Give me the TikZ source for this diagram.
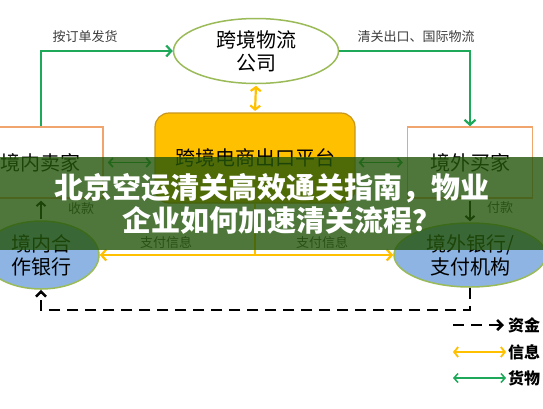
\documentclass[tikz,border=0pt]{standalone}
\usepackage{fontspec}
\newfontfamily\cjk{Noto Sans CJK SC}
\usetikzlibrary{shapes.geometric,arrows.meta}
\definecolor{garrow}{RGB}{30,168,90}
\definecolor{yarrow}{RGB}{255,192,0}
\definecolor{boxor}{RGB}{240,165,110}
\definecolor{ellol}{RGB}{155,187,89}
\definecolor{bluefill}{RGB}{141,180,226}
\definecolor{pfedge}{RGB}{200,150,30}
\definecolor{bannerg}{RGB}{36,86,11}
\definecolor{lblgray}{RGB}{60,60,60}
\begin{document}
\begin{tikzpicture}[x=1pt,y=-1pt,font=\cjk,
  ellnode/.style={ellipse, draw=ellol, line width=1.5pt, align=center, inner sep=0pt,
    font=\cjk\fontsize{20}{23}\selectfont},
  boxnode/.style={rectangle, draw=boxor, line width=1.5pt, inner sep=0pt,
    font=\cjk\fontsize{20}{23}\selectfont},
  pfnode/.style={rectangle, rounded corners=14pt, draw=pfedge, fill=yarrow, line width=1.2pt,
    inner sep=0pt, font=\cjk\fontsize{20}{23}\selectfont},
  garr/.style={draw=garrow, line width=2.2pt, -{Straight Barb[length=5pt,width=11pt]}},
  garr2/.style={draw=garrow, line width=1.8pt, {Straight Barb[length=4pt,width=9pt]}-{Straight Barb[length=4pt,width=9pt]}},
  yarr/.style={draw=yarrow, line width=2.2pt, -{Straight Barb[length=5pt,width=11pt]}},
  yarr2/.style={draw=yarrow, line width=2.2pt, {Straight Barb[length=4pt,width=10pt]}-{Straight Barb[length=4pt,width=10pt]}},
  barr/.style={draw=black, line width=2pt, -{Straight Barb[length=4pt,width=9pt]}},
  fund/.style={draw=black, line width=2.6pt, dash pattern=on 11pt off 7pt, -{Straight Barb[length=5pt,width=10pt]}},
  lbl/.style={font=\cjk\fontsize{13}{15}\selectfont, text=lblgray, inner sep=0pt},
  leg/.style={font=\cjk\bfseries\fontsize{16}{18}\selectfont, text=black, inner sep=0pt, anchor=west},
  ttl/.style={font=\cjk\bfseries\fontsize{29}{31}\selectfont, text=white, inner sep=0pt, anchor=west}]
\useasboundingbox (0,0) rectangle (543,408);
\clip (0,0) rectangle (543,408);
\fill[white] (0,0) rectangle (543,408);

% nodes
\node[ellnode, fill=white, minimum width=165pt, minimum height=65pt] (lg) at (256,51) {跨境物流\\公司};
\node[boxnode, minimum width=124pt, minimum height=71pt] (ls) at (41,162.5) {境内卖家};
\node[pfnode, minimum width=200pt, minimum height=90pt] (pf) at (255,158) {跨境电商出口平台};
\node[boxnode, minimum width=125pt, minimum height=71pt] (rb) at (470,162.5) {境外买家};
\node[ellnode, fill=bluefill, minimum width=116pt, minimum height=68pt] (lb) at (41,255) {境内合\\作银行};
\node[ellnode, fill=bluefill, minimum width=152pt, minimum height=64pt] (rk) at (470,255) {境外银行/\\支付机构};

% connectors
\draw[garr] (ls.north) |- (lg.west);
\draw[garr] (lg.east) -| (rb.north);
\draw[yarr2, shorten <=1.5pt, shorten >=1.5pt] (lg.south) -- (pf.north);
\draw[garr2, shorten <=4pt, shorten >=3pt] (ls.east) -- (ls.east -| pf.west);
\draw[garr2, shorten <=3pt, shorten >=4pt] (pf.east |- rb.west) -- (rb.west);
\draw[barr, shorten <=1pt, shorten >=2pt] (lb.north) -- (ls.south);
\draw[barr, shorten <=2pt, shorten >=1pt] (rb.south) -- (rk.north);
\draw[yarr] (pf.south) |- (lb.east);
\draw[yarr] (pf.south) |- (rk.west);
\coordinate (dl) at (41,310);
\draw[fund] (rk.south) |- (dl) -- (lb.south);

% labels
\node[lbl] (l1) at (85,37) {按订单发货};
\node[lbl] (l2) at (416,37) {清关出口、国际物流};
\node[lbl] (l3) at (81,209) {收款};
\node[lbl] (l4) at (500,208) {付款};
\node[lbl] (l5) at (166,243) {支付信息};
\node[lbl] (l6) at (322,243) {支付信息};

% legend
\coordinate (f1) at (453,325); \coordinate (f2) at (504,325);
\draw[fund] (f1) -- (f2);
\node[leg] (t1) at (508,325) {资金};
\coordinate (i1) at (453,352); \coordinate (i2) at (506,352);
\draw[yarr2, line width=1.8pt] (i1) -- (i2);
\node[leg] (t2) at (508,352) {信息};
\coordinate (g1) at (453,378); \coordinate (g2) at (506,378);
\draw[garr2, line width=1.5pt] (g1) -- (g2);
\node[leg] (t3) at (508,378) {货物};

% banner
\fill[bannerg, opacity=0.8] (0,157) rectangle (543,250);
\node[ttl] (h1) at (54,188) {北京空运清关高效通关指南，物业};
\node[ttl] (h2) at (122,220) {企业如何加速清关流程？};
\end{tikzpicture}
\end{document}
